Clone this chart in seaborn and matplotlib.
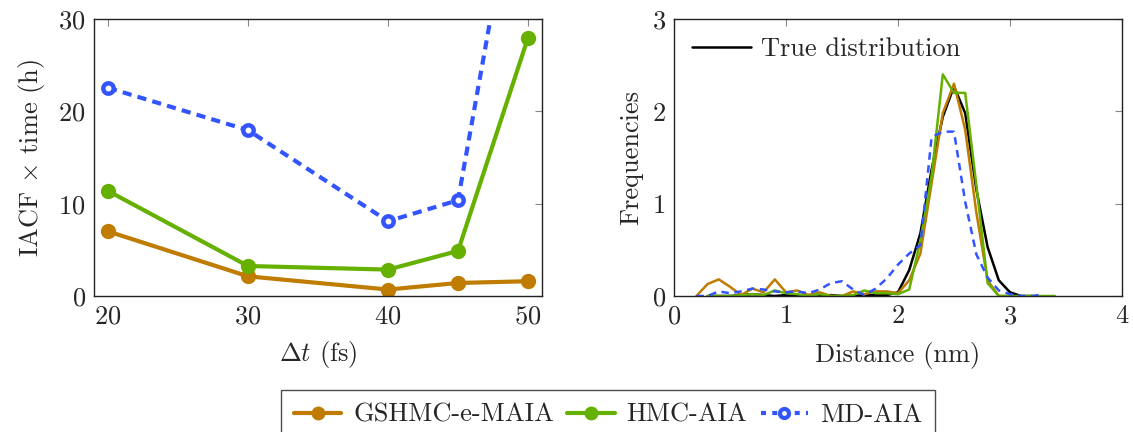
import numpy as np
import pandas as pd
import matplotlib
matplotlib.use("Agg")
import matplotlib.pyplot as plt
import seaborn as sns
from matplotlib.lines import Line2D

# ---------------- data ----------------
dt = [20, 30, 40, 45, 50]
gshmc_iacf = [7.0, 2.13, 0.7, 1.41, 1.6]
hmc_iacf = [11.38, 3.25, 2.86, 4.88, 27.97]
md_iacf = [22.55, 17.96, 8.1, 10.37, 52.7]

dist_true = [0.3, 0.4, 0.5, 0.6, 0.7, 0.8, 0.9, 1.0, 1.1, 1.2, 1.3, 1.4, 1.5, 1.6, 1.7, 1.8, 1.9,
             2.0, 2.1, 2.2, 2.3, 2.4, 2.5, 2.6, 2.7, 2.8, 2.9, 3.0, 3.1, 3.2]
freq_true = [0.0, 0.0, 0.0, 0.01, 0.02, 0.01, 0.0, 0.01, 0.0, 0.01, 0.0, 0.01, 0.0, 0.0, 0.01, 0.01, 0.01,
             0.04, 0.28, 0.68, 1.37, 1.94, 2.27, 1.98, 1.15, 0.53, 0.17, 0.04, 0.0, 0.0]

dist_gshmc = [0.2, 0.3, 0.4, 0.5, 0.6, 0.7, 0.8, 0.9, 1.0, 1.1, 1.2, 1.3, 1.4, 1.5, 1.6, 1.7, 1.8, 1.9,
              2.0, 2.1, 2.2, 2.3, 2.4, 2.5, 2.6, 2.7, 2.8, 2.9, 3.0]
freq_gshmc = [0.0, 0.13, 0.18, 0.1, 0.01, 0.08, 0.04, 0.18, 0.04, 0.06, 0.01, 0.04, 0.0, 0.0, 0.05, 0.02, 0.05, 0.05,
              0.03, 0.17, 0.46, 1.22, 1.98, 2.3, 1.8, 0.9, 0.17, 0.0, 0.0]

dist_hmc = [0.3, 0.4, 0.5, 0.6, 0.7, 0.8, 0.9, 1.0, 1.1, 1.2, 1.3, 1.4, 1.5, 1.6, 1.7, 1.8, 1.9,
            2.0, 2.1, 2.2, 2.3, 2.4, 2.5, 2.6, 2.7, 2.8, 2.9, 3.0, 3.1, 3.2, 3.3, 3.4]
freq_hmc = [0.0, 0.0, 0.0, 0.01, 0.02, 0.01, 0.06, 0.03, 0.02, 0.0, 0.02, 0.0, 0.0, 0.01, 0.06, 0.03, 0.03,
            0.02, 0.07, 0.6, 1.3, 2.4, 2.2, 2.2, 1.2, 0.14, 0.0, 0.0, 0.0, 0.0, 0.0, 0.0]

dist_md = [0.2, 0.3, 0.4, 0.5, 0.6, 0.7, 0.8, 0.9, 1.0, 1.1, 1.2, 1.3, 1.4, 1.5, 1.6, 1.7, 1.8, 1.9,
           2.0, 2.1, 2.2, 2.3, 2.4, 2.5, 2.6, 2.7, 2.8, 2.9, 3.0, 3.1, 3.2, 3.3]
freq_md = [0.0, 0.0, 0.05, 0.03, 0.05, 0.08, 0.07, 0.05, 0.04, 0.05, 0.03, 0.07, 0.14, 0.16, 0.07, 0.01, 0.08, 0.19,
           0.34, 0.46, 0.55, 1.72, 1.78, 1.78, 1.02, 0.45, 0.2, 0.06, 0.02, 0.0, 0.0, 0.02]

names = ["GSHMC-e-MAIA", "HMC-AIA", "MD-AIA"]
c_orange = "#bf7c00"
c_green = "#66b000"
c_blue = "#3355ff"

# ---------------- style ----------------
sns.set_theme(style="white")
plt.rcParams["font.family"] = ["cmr10", "DejaVu Serif"]
plt.rcParams["mathtext.fontset"] = "cm"
plt.rcParams["axes.formatter.use_mathtext"] = True
plt.rcParams["axes.unicode_minus"] = False
FS = 19

fig = plt.figure(figsize=(11.33, 4.32), dpi=100)
W, H = 1133, 432
ax1 = fig.add_axes([94 / W, 1 - 296 / H, (542 - 94) / W, (296 - 19) / H])
ax2 = fig.add_axes([674 / W, 1 - 296 / H, (1122 - 674) / W, (296 - 19) / H])

# ---------------- left panel ----------------
lw = 3.0
sns.lineplot(x=dt, y=gshmc_iacf, ax=ax1, color=c_orange, lw=lw, marker="o", markersize=11,
             markeredgewidth=0, markerfacecolor=c_orange)
sns.lineplot(x=dt, y=hmc_iacf, ax=ax1, color=c_green, lw=lw, marker="o", markersize=11,
             markeredgewidth=0, markerfacecolor=c_green)
sns.lineplot(x=dt, y=md_iacf, ax=ax1, color=c_blue, lw=lw, marker="o", markersize=7.5,
             markeredgewidth=3.2, markerfacecolor="white", markeredgecolor=c_blue,
             dashes=False, linestyle=(0, (2.2, 1.5)))

ax1.set_xlim(19, 51)
ax1.set_ylim(0, 30)
ax1.set_xticks([20, 30, 40, 50])
ax1.set_yticks([0, 10, 20, 30])
ax1.set_xlabel(r"$\Delta t$ (fs)", fontsize=FS, labelpad=8)
ax1.set_ylabel(r"IACF $\times$ time (h)", fontsize=FS, labelpad=8)

# ---------------- right panel ----------------
lw2 = 1.8
sns.lineplot(x=dist_true, y=freq_true, ax=ax2, color="black", lw=lw2)
sns.lineplot(x=dist_gshmc, y=freq_gshmc, ax=ax2, color=c_orange, lw=lw2)
sns.lineplot(x=dist_hmc, y=freq_hmc, ax=ax2, color=c_green, lw=lw2)
sns.lineplot(x=dist_md, y=freq_md, ax=ax2, color=c_blue, lw=lw2, linestyle=(0, (3, 2.2)))

ax2.set_xlim(0, 4)
ax2.set_ylim(0, 3)
ax2.set_xticks([0, 1, 2, 3, 4])
ax2.set_yticks([0, 1, 2, 3])
ax2.set_xlabel("Distance (nm)", fontsize=FS, labelpad=10)
ax2.set_ylabel("Frequencies", fontsize=FS, labelpad=6)
ax2.legend(handles=[Line2D([0], [0], color="black", lw=lw2)], labels=["True distribution"],
           loc="upper left", frameon=False, fontsize=FS, handlelength=2.2,
           borderaxespad=0.3, handletextpad=0.4)

for ax in (ax1, ax2):
    for s in ax.spines.values():
        s.set_color("#222222")
        s.set_linewidth(1.0)
    ax.tick_params(axis="both", which="both", direction="in", length=5, width=0.8,
                   color="#888888", top=True, right=True, labelsize=FS, pad=6)

# ---------------- shared legend ----------------
handles = [
    Line2D([0], [0], color=c_orange, lw=lw, marker="o", markersize=10, markeredgewidth=0),
    Line2D([0], [0], color=c_green, lw=lw, marker="o", markersize=10, markeredgewidth=0),
    Line2D([0], [0], color=c_blue, lw=lw, marker="o", markersize=6.5, markeredgewidth=3,
           markerfacecolor="white", markeredgecolor=c_blue, linestyle=(0, (1.2, 1.5))),
]
leg = fig.legend(handles=handles, labels=names, loc="upper center",
                 bbox_to_anchor=(608 / W, 1 - 390 / H), ncol=3, fontsize=FS,
                 frameon=True, fancybox=False, edgecolor="#222222", handlelength=1.8,
                 columnspacing=0.5, handletextpad=0.45, borderpad=0.5, borderaxespad=0)
leg.get_frame().set_linewidth(1.0)

fig.savefig("out.png", dpi=100, facecolor="white")
